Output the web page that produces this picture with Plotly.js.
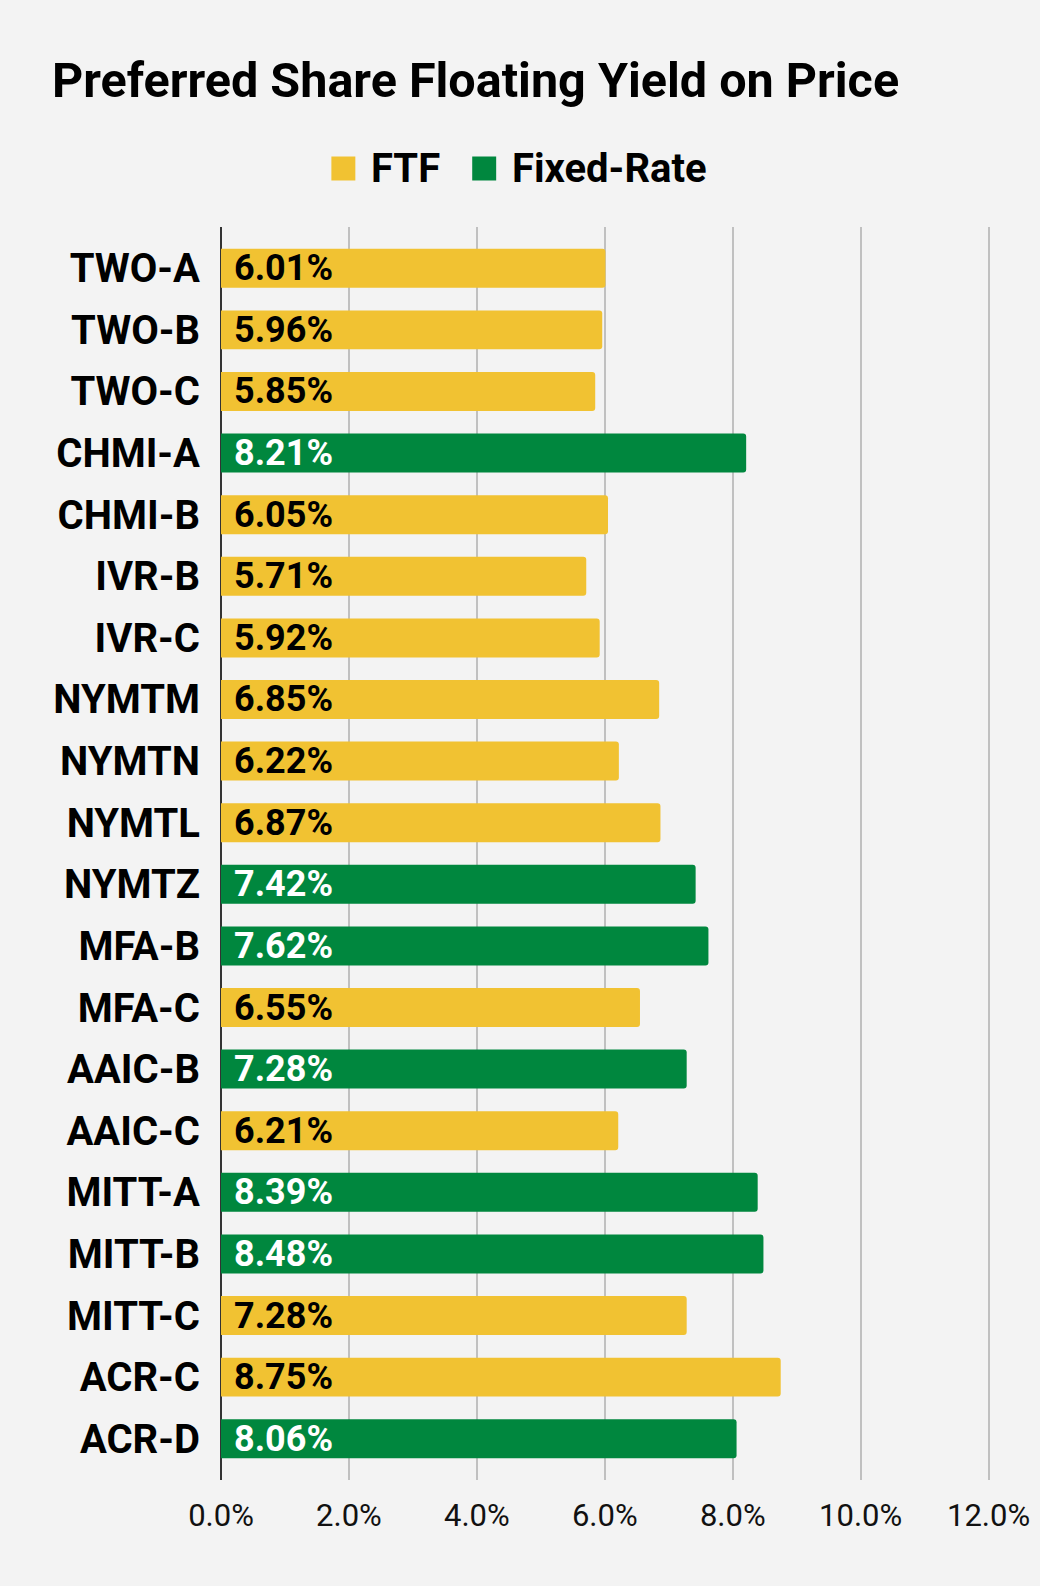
<!DOCTYPE html>
<html>
<head>
<meta charset="utf-8">
<script src="https://cdn.plot.ly/plotly-3.0.1.min.js"></script>
<style>
html,body{margin:0;padding:0;background:#f3f3f3;}
#chart{width:1040px;height:1586px;}
</style>
</head>
<body>
<div id="chart"></div>
<script>
var categories = ["TWO-A","TWO-B","TWO-C","CHMI-A","CHMI-B","IVR-B","IVR-C","NYMTM","NYMTN","NYMTL","NYMTZ","MFA-B","MFA-C","AAIC-B","AAIC-C","MITT-A","MITT-B","MITT-C","ACR-C","ACR-D"];
var yields = [6.01,5.96,5.85,8.21,6.05,5.71,5.92,6.85,6.22,6.87,7.42,7.62,6.55,7.28,6.21,8.39,8.48,7.28,8.75,8.06];
var types = ["FTF","FTF","FTF","Fixed-Rate","FTF","FTF","FTF","FTF","FTF","FTF","Fixed-Rate","Fixed-Rate","FTF","Fixed-Rate","FTF","Fixed-Rate","Fixed-Rate","FTF","FTF","Fixed-Rate"];
var seriesNames = ["FTF","Fixed-Rate"];
var xTickVals = [0,2,4,6,8,10,12];
var xTickText = ["0.0%","2.0%","4.0%","6.0%","8.0%","10.0%","12.0%"];

var colors = {"FTF":"#f1c232","Fixed-Rate":"#00873e"};
var textColors = {"FTF":"#000000","Fixed-Rate":"#ffffff"};

var traces = seriesNames.map(function(s){
  var ys=[], xs=[];
  for (var i=0;i<categories.length;i++){ if(types[i]===s){ ys.push(categories[i]); xs.push(yields[i]); } }
  return {type:'bar', orientation:'h', name:s, x:xs, y:ys,
    marker:{color:colors[s], line:{width:0}}, hoverinfo:'x+y', showlegend:false};
});

var annotations = categories.map(function(c,i){
  return {x:0, y:c, xref:'x', yref:'y', text:yields[i].toFixed(2)+'%', showarrow:false,
    xanchor:'left', yanchor:'middle', xshift:11,
    font:{family:'Roboto', size:36, color:textColors[types[i]], weight:700}};
});

// custom legend (paper coords of the plot area)
var L=220.5, Wp=774.9, T=227, H=1253;
function px(x){return (x-L)/Wp;}
function py(y){return (T+H-y)/H;}
var shapes = [
  {type:'rect', xref:'paper', yref:'paper', x0:px(331), x1:px(355), y0:py(180.5), y1:py(156.5), fillcolor:colors["FTF"], line:{width:0}},
  {type:'rect', xref:'paper', yref:'paper', x0:px(472), x1:px(496), y0:py(180.5), y1:py(156.5), fillcolor:colors["Fixed-Rate"], line:{width:0}}
];
annotations.push({xref:'paper', yref:'paper', x:px(369), y:py(168), xanchor:'left', yanchor:'middle', showarrow:false, text:seriesNames[0], font:{family:'Roboto', size:40, color:'#000', weight:700}});
annotations.push({xref:'paper', yref:'paper', x:px(510), y:py(168), xanchor:'left', yanchor:'middle', showarrow:false, text:seriesNames[1], font:{family:'Roboto', size:40, color:'#000', weight:700}});

var layout = {
  width:1040, height:1586,
  paper_bgcolor:'#f3f3f3', plot_bgcolor:'#f3f3f3',
  margin:{l:L, r:1040-L-Wp, t:T, b:1586-T-H},
  title:{text:'Preferred Share Floating Yield on Price', x:52/1040, xanchor:'left', xref:'container', y:1-80/1586, yanchor:'middle', yref:'container',
    font:{family:'Roboto', size:48.5, color:'#000', weight:700}},
  barmode:'overlay', bargap:0.367, barcornerradius:3,
  showlegend:false,
  xaxis:{range:[0,12.1], tickvals:xTickVals, ticktext:xTickText, showgrid:true, gridcolor:'#c0c0c0', gridwidth:2,
    zeroline:true, zerolinecolor:'#333333', zerolinewidth:2, showline:false, ticks:'', ticklabelstandoff:14,
    tickfont:{family:'Roboto', size:31, color:'#111'}, fixedrange:true},
  yaxis:{type:'category', categoryorder:'array', categoryarray:categories, range:[19.67,-0.67],
    showgrid:false, zeroline:false, showline:false, ticks:'', ticklabelstandoff:20,
    tickfont:{family:'Roboto', size:40, color:'#000', weight:700}, fixedrange:true},
  annotations:annotations, shapes:shapes
};
Plotly.newPlot('chart', traces, layout, {displayModeBar:false, staticPlot:true});
</script>
</body>
</html>
